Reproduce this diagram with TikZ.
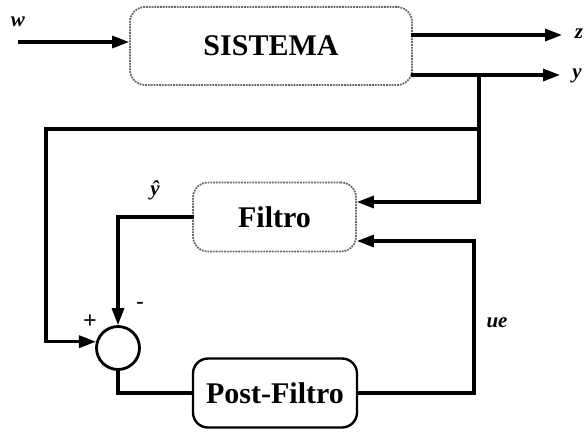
\documentclass[tikz,border=0pt]{standalone}
\usepackage{fontspec}
\setmainfont{Liberation Serif}
\usetikzlibrary{arrows.meta}
\begin{document}
\begin{tikzpicture}[x=1pt,y=-1pt,
  wire/.style={line width=3.2pt,line cap=rect},
  arr/.style={wire,-{Triangle[length=17pt,width=12pt]}},
  dotbox/.style={draw=black!60,densely dotted,line width=1.8pt,rounded corners=15pt},
  solidbox/.style={draw=black,line width=2.4pt,rounded corners=15pt},
  blabel/.style={font=\fontsize{30}{32}\selectfont\bfseries},
  slabel/.style={font=\fontsize{21}{23}\selectfont\bfseries\itshape}]
\useasboundingbox (0,0) rectangle (585,431);
% blocks
\node[dotbox,blabel,minimum width=282pt,minimum height=78pt] (sis) at (271,46) {SISTEMA};
\node[dotbox,blabel,minimum width=163pt,minimum height=69pt] (fil) at (274.5,217) {Filtro};
\node[solidbox,blabel,minimum width=164pt,minimum height=69pt] (post) at (275,393) {Post-Filtro};
\node[draw,circle,line width=2.8pt,minimum size=43pt,inner sep=0pt] (sum) at (118,348) {};
% coordinates
\coordinate (win) at (20,42);
\coordinate (zout) at (562,35);
\coordinate (yout) at (560,75);
\coordinate (br) at (479,75);
\coordinate (tl) at (46,129);
\coordinate (fin1) at (479,202);
\coordinate (uec) at (474,241);
% labels
\node[slabel] (lw) at (18,22) {w};
\node[slabel] (lz) at (579,34) {z};
\node[slabel] (ly) at (577,76) {y};
\node[slabel] (lyh) at (155,190) {ŷ};
\node[slabel] (lue) at (497,323) {ue};
\node[font=\fontsize{24}{26}\selectfont\bfseries] (lplus) at (90,322) {+};
\node[font=\fontsize{22}{24}\selectfont\bfseries] (lminus) at (140,305) {-};
% connectors
\draw[arr] (win) -- (win -| sis.west);
\draw[arr] (sis.east |- zout) -- (zout);
\draw[arr] (sis.east |- yout) -- (yout);
\draw[arr] (br) -- (fin1) -- (fin1 -| fil.east);
\draw[arr] (br |- tl) -- (tl) -- (tl |- sum.164) -- (sum.164);
\draw[arr] (fil.west) -| (sum.north);
\draw[wire] (sum.south) |- (post.west);
\draw[arr] (post.east) -| (uec) -- (uec -| fil.east);
\end{tikzpicture}
\end{document}
